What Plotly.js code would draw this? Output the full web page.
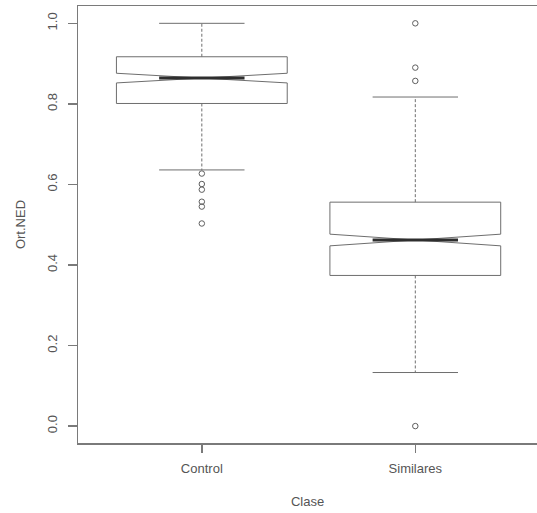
<!DOCTYPE html>
<html>
<head>
<meta charset="utf-8">
<script src="https://cdn.plot.ly/plotly-3.0.1.min.js"></script>
<style>html,body{margin:0;padding:0;overflow:hidden;background:#fff}#chart{width:537px;height:513px}</style>
</head>
<body>
<div id="chart"></div>
<script>
// ---- data ----
const categories = ['Control', 'Similares'];
const q1 = [0.801, 0.374];
const median = [0.864, 0.462];
const q3 = [0.917, 0.556];
const lowerWhisker = [0.636, 0.133];
const upperWhisker = [1.0, 0.817];
const notchSpan = [0.012, 0.0145];
const controlOutliers = [0.627, 0.601, 0.587, 0.557, 0.545, 0.503];
const similaresOutliers = [1.0, 0.890, 0.857, 0.0];
const yTicks = [0, 0.2, 0.4, 0.6, 0.8, 1.0];

// ---- style ----
const LINE = '#6e6e6e';
const DARK = '#2e2e2e';
const TEXT = '#555555';
const HALF = 0.4;     // box half-width (R default width 0.8)
const CAP = 0.2;      // staple half-width

const pos = categories.map((c, i) => i + 1);
const traces = [];

// notched boxes (whiskers drawn separately so they can be dashed)
traces.push({
  type: 'box',
  x: pos,
  q1: q1, median: median, q3: q3,
  lowerfence: q1, upperfence: q3,
  notchspan: notchSpan,
  notched: true,
  notchwidth: 0.5,
  width: 2 * HALF,
  whiskerwidth: 0,
  boxpoints: false,
  fillcolor: 'rgba(0,0,0,0)',
  line: {color: LINE, width: 1},
  hoverinfo: 'skip',
  showlegend: false
});

pos.forEach((p, i) => {
  // dashed whiskers
  traces.push({
    type: 'scatter', mode: 'lines',
    x: [p, p, null, p, p],
    y: [q3[i], upperWhisker[i], null, q1[i], lowerWhisker[i]],
    line: {color: LINE, width: 1, dash: '3px,2px'},
    hoverinfo: 'skip', showlegend: false
  });
  // staples
  traces.push({
    type: 'scatter', mode: 'lines',
    x: [p - CAP, p + CAP, null, p - CAP, p + CAP],
    y: [upperWhisker[i], upperWhisker[i], null, lowerWhisker[i], lowerWhisker[i]],
    line: {color: LINE, width: 1},
    hoverinfo: 'skip', showlegend: false
  });
  // thick median
  traces.push({
    type: 'scatter', mode: 'lines',
    x: [p - HALF / 2, p + HALF / 2],
    y: [median[i], median[i]],
    line: {color: DARK, width: 3},
    hoverinfo: 'skip', showlegend: false
  });
});

// outliers
const outlierSets = [controlOutliers, similaresOutliers];
outlierSets.forEach((vals, i) => {
  traces.push({
    type: 'scatter', mode: 'markers',
    x: vals.map(() => pos[i]),
    y: vals,
    marker: {symbol: 'circle-open', size: 5.5, color: '#5e5e5e', line: {width: 1}},
    hoverinfo: 'skip', showlegend: false
  });
});

const layout = {
  width: 537, height: 513,
  margin: {l: 78, r: 0, t: 6, b: 70},
  paper_bgcolor: '#ffffff', plot_bgcolor: '#ffffff',
  font: {family: 'Liberation Sans, Arial, sans-serif', size: 13, color: TEXT},
  showlegend: false,
  xaxis: {
    range: [0.42, 2.57],
    tickmode: 'array', tickvals: pos, ticktext: categories,
    showgrid: false, zeroline: false,
    showline: true, mirror: true, linecolor: '#7a7a7a', linewidth: 1.5,
    ticks: 'outside', ticklen: 8, tickcolor: '#7a7a7a', tickwidth: 1.5,
    ticklabelstandoff: 5,
    title: {text: 'Clase', font: {size: 13, color: TEXT}, standoff: 22}
  },
  yaxis: {
    range: [-0.042, 1.043],
    tickmode: 'array', tickvals: yTicks, tickformat: '.1f',
    tickangle: -90,
    showgrid: false, zeroline: false,
    showline: true, mirror: false, linecolor: '#7a7a7a', linewidth: 1.5,
    ticks: 'outside', ticklen: 9, tickcolor: '#7a7a7a', tickwidth: 1.5,
    ticklabelstandoff: 5,
    title: {text: 'Ort.NED', font: {size: 13, color: TEXT}, standoff: 16}
  }
};

Plotly.newPlot('chart', traces, layout, {displayModeBar: false, staticPlot: true});
</script>
</body>
</html>
